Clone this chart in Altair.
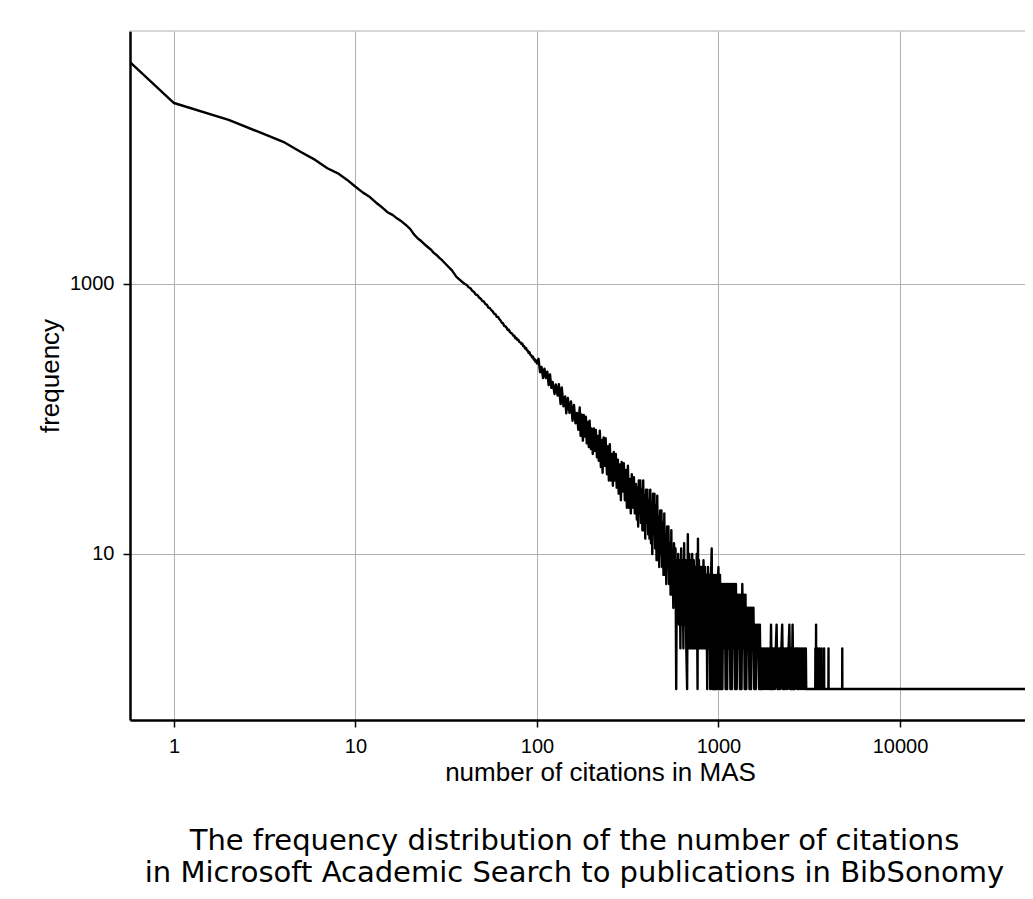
import altair as alt
import pandas as pd

# ---- data (citations -> frequency) ----
head_x = [0.5, 1, 2, 3, 4, 5, 6, 7, 8, 9, 10, 11, 12, 13, 14, 15, 16, 17, 18, 19, 20,
          21, 22, 23, 24, 25, 26, 27, 28, 29, 30, 32, 34, 36, 38]
head_f = [52000, 21900, 16400, 13200, 11300, 9500, 8300, 7200, 6600, 5900, 5250,
          4750, 4400, 4000, 3700, 3400, 3250, 3050, 2900, 2730, 2560,
          2330, 2180, 2080, 1970, 1880, 1800, 1700, 1640, 1560, 1500, 1370, 1260, 1130, 1060]

head2_x = [40, 41, 42, 43, 44, 45, 46, 47, 48, 49, 50, 51, 52, 53, 54, 55, 56, 57, 58, 59,
           60, 61, 62, 63, 64, 65, 66, 67, 68, 69, 70, 71, 72, 73, 74, 75, 76, 77, 78, 79,
           80, 81, 82, 83, 84, 85, 86, 87, 88, 89, 90, 91, 92, 93, 94, 95, 96, 97, 98, 99, 100]
head2_f = [1000, 985, 945, 930, 890, 872, 835, 826, 795, 778, 750, 741, 710, 700, 668, 662, 640, 628, 604, 598,
           572, 570, 550, 537, 516, 512, 488, 487, 475, 456, 458, 440, 433, 428, 415, 414, 396, 398, 384, 386,
           372, 370, 361, 362, 347, 346, 333, 336, 322, 321, 308, 312, 298, 296, 286, 290, 276, 278, 266, 271, 258]

b1_x = [102, 104, 106, 108, 110, 112, 114, 116, 118, 120, 122, 125, 127]
b1_f = [279, 222, 243, 201, 236, 201, 224, 178, 214, 170, 188, 153, 180]

b2_x = [130, 132, 135, 137, 140, 143, 145, 148, 151, 154, 157, 160, 163, 166, 169]
b2_f = [149, 181, 129, 171, 124, 147, 110, 143, 111, 135, 97, 127, 93, 111, 83]

b3_x = [172, 174, 176, 179, 181, 183, 186, 188, 190, 193, 195, 198, 200, 203, 206, 208, 211, 214, 216, 219]
b3_f = [122, 75, 108, 69, 107, 74, 104, 66, 95, 62, 97, 60, 85, 55, 85, 58, 83, 52, 75, 49]

b4_x = [222, 225, 228, 230, 233, 236, 239, 243, 246, 249, 252, 255, 258, 262, 265, 268, 272, 275, 279]
b4_f = [82, 44, 70, 40, 73, 45, 72, 39, 63, 35, 65, 35, 55, 32, 57, 35, 55, 31, 50]

b5_x = [282, 286, 290, 293, 297, 301, 305, 309, 313, 317, 321, 325, 329, 333, 338, 342, 346, 351]
b5_f = [28, 46, 25, 48, 29, 47, 25, 42, 22, 45, 22, 36, 20, 39, 22, 37, 20, 33]

b6_x = [355, 358, 361, 364, 368, 371, 374, 378, 381, 385, 388, 392, 395, 399, 402, 406, 410, 413, 417, 421]
b6_f = [18, 31, 16, 35, 20, 35, 17, 30, 15, 35, 15, 27, 13, 30, 17, 30, 14, 25, 13, 30]

b7_x = [425, 428, 432, 436, 440, 444, 448, 452, 456, 460, 464, 468, 472, 477, 481, 485, 490, 494, 498, 503,
        507, 512, 516, 521, 526, 530, 535, 540, 545, 550, 554, 559, 564, 569, 575, 580, 585, 590, 595]
b7_f = [12, 24, 10, 28, 14, 28, 11, 23, 9, 27, 9, 19, 8, 21, 10, 21, 8, 17, 7, 20,
        7, 14, 6, 16, 8, 16, 6, 12, 5, 15, 5, 10, 4, 12, 6, 11, 1, 9, 4]

c_x = [600, 606, 612, 617, 623, 629, 635, 641, 647, 653, 659, 665, 672, 678, 684, 691, 697,
       704, 711, 717, 724, 731, 738, 745, 752, 759, 767, 771, 776, 781, 789, 796, 804, 811,
       819, 827, 835, 843, 851, 859, 867, 876, 884, 893, 901, 910, 918, 927, 936, 945, 954,
       963, 972, 981, 991, 1000]
c_f = [10, 3, 9, 2, 11, 3, 9, 2, 12, 3, 9, 2, 1, 14, 2, 10, 2,
       9, 2, 10, 2, 9, 2, 8, 2, 10, 1, 13, 2, 9, 2, 8, 2, 8,
       2, 9, 2, 8, 2, 7, 1, 8, 2, 7, 1, 7, 11, 1, 7, 1, 7,
       1, 7, 1, 6, 8]

d_x = [1010, 1020, 1030, 1041, 1051, 1062, 1073, 1084, 1095, 1106,
       1117, 1128, 1140, 1151, 1163, 1175, 1187, 1199, 1211, 1223,
       1235, 1248, 1261, 1273, 1286, 1299, 1313, 1326, 1340, 1353,
       1367, 1381, 1395, 1409, 1424, 1438, 1453, 1467, 1482, 1497,
       1513, 1528, 1544, 1559, 1575, 1591, 1607, 1624, 1640, 1657,
       1674, 1691, 1708, 1725, 1743, 1761, 1779, 1797, 1815, 1834,
       1852, 1871, 1890, 1909, 1929, 1948, 1968, 1988, 2008, 2029,
       2049, 2070, 2091, 2113, 2134, 2156, 2178, 2200, 2222, 2245,
       2268, 2291, 2314, 2338, 2361, 2385, 2410, 2434, 2459, 2484,
       2509, 2535, 2561, 2587, 2613, 2640, 2667]
d_f = [1, 7, 1, 6, 1, 6, 2, 6, 1, 6,
       1, 6, 2, 6, 1, 6, 1, 6, 2, 6,
       1, 6, 1, 5, 2, 5, 1, 5, 1, 6,
       2, 5, 1, 5, 1, 4, 2, 4, 1, 4,
       1, 4, 2, 4, 1, 3, 1, 3, 2, 3,
       1, 3, 1, 2, 1, 2, 1, 2, 1, 2,
       1, 2, 1, 2, 1, 3, 1, 2, 1, 2,
       1, 2, 3, 1, 2, 1, 2, 1, 2, 3,
       1, 2, 1, 2, 1, 2, 1, 2, 3, 1,
       2, 1, 3, 1, 2, 1, 2]

tail_x = [2700, 2720, 2740, 2760, 2790, 2820, 2850, 2880, 2910, 2940, 2970, 3000, 3030, 3045,
          3415, 3420, 3425, 3445, 3450, 3455, 3515, 3520, 3525, 3595, 3600, 3605,
          3695, 3700, 3705, 3815, 3820, 3825, 4035, 4040, 4045, 4805, 4810, 4815,
          6000, 9000, 15000, 25000, 50700]
tail_f = [2, 1, 2, 1, 2, 1, 2, 1, 2, 1, 2, 1, 2, 1,
          1, 2, 1, 1, 3, 1, 1, 2, 1, 1, 2, 1,
          1, 2, 1, 1, 2, 1, 1, 2, 1, 1, 2, 1,
          1, 1, 1, 1, 1]

x_ticks = [1, 10, 100, 1000, 10000]
y_ticks = [10, 1000]

segments = [(head_x, head_f), (head2_x, head2_f), (b1_x, b1_f), (b2_x, b2_f), (b3_x, b3_f),
            (b4_x, b4_f), (b5_x, b5_f), (b6_x, b6_f), (b7_x, b7_f), (c_x, c_f), (d_x, d_f),
            (tail_x, tail_f)]
xs, fs = [], []
for sx, sf in segments:
    n = min(len(sx), len(sf))
    xs += sx[:n]
    fs += sf[:n]

df = pd.DataFrame({"citations": xs, "frequency": fs})

W, H = 895, 689

line = alt.Chart(df).mark_line(
    color="black", strokeWidth=2.4, strokeJoin="round", clip=True
).encode(
    x=alt.X("citations:Q",
            scale=alt.Scale(type="log", domain=[0.5723, 48870], nice=False),
            axis=alt.Axis(values=x_ticks, format="d", title="number of citations in MAS",
                          labelPadding=9, titlePadding=3, titleX=470)),
    y=alt.Y("frequency:Q",
            scale=alt.Scale(type="log", domain=[0.5893, 74800], nice=False),
            axis=alt.Axis(values=y_ticks, format="d", title="frequency",
                          labelPadding=9, titlePadding=6)),
)

top_border = alt.Chart(pd.DataFrame({"edge": [0]})).mark_rule(
    color="#b0b0b0", strokeWidth=1
).encode(x=alt.value(0), x2=alt.value(W), y=alt.value(0))

chart = alt.layer(line, top_border).properties(
    width=W,
    height=H,
    autosize=alt.AutoSizeParams(type="none"),
    padding={"left": 122, "top": 23, "right": 0, "bottom": 171},
    title=alt.TitleParams(
        text=["The frequency distribution of the number of citations",
              "in Microsoft Academic Search to publications in BibSonomy"],
        orient="bottom", anchor="middle", font="DejaVu Sans", fontSize=29,
        fontWeight="normal", color="black", offset=42, lineHeight=32, dx=-3),
).configure_view(
    stroke=None
).configure_axis(
    domainColor="black", domainWidth=2.5, tickColor="black", tickWidth=1.5, tickSize=7,
    gridColor="#b0b0b0", gridWidth=1, grid=True,
    labelFont="Liberation Sans", labelFontSize=20, labelColor="black",
    titleFont="Liberation Sans", titleFontSize=26, titleFontWeight="normal", titleColor="black",
)

chart.save("out.html", embed_options={"renderer": "svg", "actions": False})
